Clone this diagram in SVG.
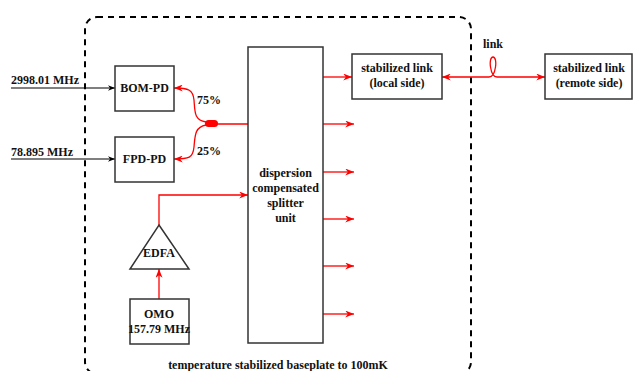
<svg xmlns="http://www.w3.org/2000/svg" width="633" height="371" viewBox="0 0 633 371">
<defs>
<style>
text{font-family:"Liberation Serif","Times New Roman",serif;font-weight:bold;font-size:12px;fill:#111}
.c{text-anchor:middle}
.box{fill:#fff;stroke:#333;stroke-width:1.5}
.red{fill:none;stroke:#f00;stroke-width:1.3}
.blk{fill:none;stroke:#000;stroke-width:1.2}
</style>
<marker id="ar" viewBox="0 0 10 8" refX="10" refY="4" markerWidth="9" markerHeight="7" markerUnits="userSpaceOnUse" orient="auto-start-reverse"><path d="M0,0 L10,4 L0,8 L3,4 z" fill="#f00"/></marker>
<marker id="ab" viewBox="0 0 10 8" refX="10" refY="4" markerWidth="7" markerHeight="6" markerUnits="userSpaceOnUse" orient="auto"><path d="M0,0 L10,4 L0,8 L3,4 z" fill="#000"/></marker>
</defs>
<rect width="633" height="371" fill="#fff"/>
<g id="enclosure">
<rect x="85" y="17" width="386" height="357" rx="12" fill="none" stroke="#000" stroke-width="2" stroke-dasharray="6,5"/>
<text class="c" x="278" y="369">temperature stabilized baseplate to 100mK</text>
</g>
<g id="connectors">
<path class="blk" d="M11,88 H115" marker-end="url(#ab)"/>
<path class="blk" d="M11,159 H115" marker-end="url(#ab)"/>
<path class="red" d="M212,124 H248"/>
<path class="red" d="M206,122 C194,120 195,112 194,100 C193,90 189,88 174,88" marker-end="url(#ar)"/>
<path class="red" d="M206,125 C195,127 195,135 194,147 C193,158 189,159 174,159" marker-end="url(#ar)"/>
<path class="red" d="M159,299 V269" marker-end="url(#ar)"/>
<path class="red" d="M159,225 V195 H248" marker-end="url(#ar)"/>
<path class="red" d="M323,77 H352" marker-end="url(#ar)"/>
<path class="red" d="M323,124 H354" marker-end="url(#ar)"/>
<path class="red" d="M323,172 H354" marker-end="url(#ar)"/>
<path class="red" d="M323,219 H354" marker-end="url(#ar)"/>
<path class="red" d="M323,266 H354" marker-end="url(#ar)"/>
<path class="red" d="M323,314 H354" marker-end="url(#ar)"/>
<path class="red" d="M442,77 H489 C496,77 498,57 493,57 C488,57 490,77 497,77 H545" marker-start="url(#ar)" marker-end="url(#ar)"/>
<rect x="205" y="120" width="13" height="7" rx="3.5" fill="#f00"/>
<text x="197" y="104">75%</text>
<text x="197" y="155">25%</text>
<text class="c" x="493" y="48">link</text>
</g>
<g id="inputs">
<text x="11" y="84">2998.01 MHz</text>
<text x="11" y="156">78.895 MHz</text>
</g>
<g id="bom-pd">
<rect class="box" x="115" y="66" width="59" height="45"/>
<text class="c" x="144.5" y="92">BOM-PD</text>
</g>
<g id="fpd-pd">
<rect class="box" x="115" y="137" width="59" height="45"/>
<text class="c" x="144.5" y="163">FPD-PD</text>
</g>
<g id="splitter">
<rect class="box" x="248" y="47" width="75" height="296"/>
<text class="c" x="285.5" y="177">dispersion</text>
<text class="c" x="285.5" y="192">compensated</text>
<text class="c" x="285.5" y="207">splitter</text>
<text class="c" x="285.5" y="222">unit</text>
</g>
<g id="edfa">
<path class="box" d="M159,225 L189,269 L130,269 Z"/>
<text class="c" x="159" y="257">EDFA</text>
</g>
<g id="omo">
<rect class="box" x="130" y="299" width="59" height="45"/>
<text class="c" x="159" y="318">OMO</text>
<text class="c" x="159" y="333">157.79 MHz</text>
</g>
<g id="local">
<rect class="box" x="352" y="54" width="90" height="45"/>
<text class="c" x="397" y="72">stabilized link</text>
<text class="c" x="397" y="87">(local side)</text>
</g>
<g id="remote">
<rect class="box" x="545" y="54" width="87" height="45"/>
<text class="c" x="589" y="72">stabilized link</text>
<text class="c" x="589" y="87">(remote side)</text>
</g>
</svg>
